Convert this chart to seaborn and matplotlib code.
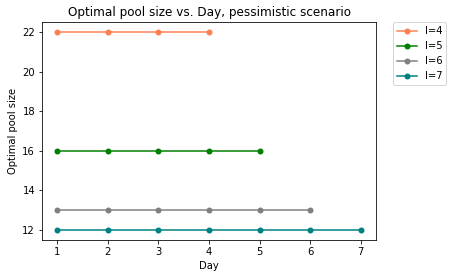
import matplotlib
matplotlib.use("Agg")
import matplotlib.pyplot as plt
import seaborn as sns
import pandas as pd

labels = ["l=4", "l=5", "l=6", "l=7"]
days = [[1, 2, 3, 4], [1, 2, 3, 4, 5], [1, 2, 3, 4, 5, 6], [1, 2, 3, 4, 5, 6, 7]]
pool_sizes = [[22, 22, 22, 22], [16, 16, 16, 16, 16], [13, 13, 13, 13, 13, 13],
              [12, 12, 12, 12, 12, 12, 12]]
colors = ["coral", "green", "grey", "teal"]

rows = []
for lab, d, p in zip(labels, days, pool_sizes):
    for x, y in zip(d, p):
        rows.append({"Day": x, "size": y, "l": lab})
df = pd.DataFrame(rows)

fig = plt.figure(figsize=(453 / 72, 278 / 72), dpi=72)
ax = fig.add_axes([42 / 453, 38 / 278, 334 / 453, 218 / 278])
sns.lineplot(data=df, x="Day", y="size", hue="l", palette=colors, marker="o",
             markersize=6, markeredgewidth=0, linewidth=1.5, ax=ax)
ax.set_title("Optimal pool size vs. Day, pessimistic scenario", fontsize=12)
ax.set_xlabel("Day", fontsize=10)
ax.set_ylabel("Optimal pool size", fontsize=10)
ax.tick_params(labelsize=10)
ax.set_yticks([12, 14, 16, 18, 20, 22])
ax.legend(bbox_to_anchor=(1.05, 1), loc="upper left", borderaxespad=0, fontsize=10)
fig.savefig("out.png", dpi=72)
